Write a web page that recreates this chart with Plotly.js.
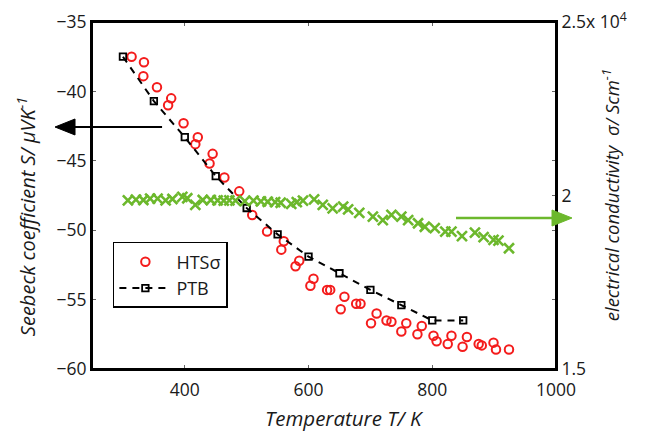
<!DOCTYPE html>
<html>
<head>
<meta charset="utf-8">
<script src="https://cdn.plot.ly/plotly-3.0.1.min.js"></script>
<style>html,body{margin:0;padding:0;background:#fff;}#chart{width:648px;height:434px;}</style>
</head>
<body>
<div id="chart"></div>
<script>
// PTB (black squares, dashed)
const ptbT = [300,350,400,450,500,550,600,650,700,750,800,850];
const ptbS = [-37.5,-40.7,-43.3,-46.1,-48.4,-50.3,-51.9,-53.1,-54.3,-55.4,-56.5,-56.5];

// HTS sigma (red open circles)
const htsT = [314,334,333,355,378,373,398,421,417,445,440,464,488,509,533,560,556,585,579,608,603,630,635,658,652,677,684,710,701,726,734,758,750,783,776,802,807,831,825,856,849,875,880,899,903,924];
const htsS = [-37.5,-37.9,-38.9,-39.7,-40.5,-41.0,-42.3,-43.3,-43.8,-44.5,-45.2,-46.2,-47.2,-48.9,-50.1,-50.8,-51.4,-52.2,-52.6,-53.5,-54.0,-54.3,-54.3,-54.8,-55.7,-55.3,-55.3,-56.0,-56.7,-56.5,-56.6,-56.7,-57.3,-56.9,-57.5,-57.6,-58.0,-57.6,-58.2,-57.7,-58.4,-58.2,-58.3,-58.1,-58.6,-58.6];

// electrical conductivity (x1e4 S/cm, green crosses)
const sigT = [308,321,333,344,356,369,380,396,404,417,429,442,453,463,472,482,497,511,523,534,546,555,572,581,591,609,623,639,656,664,682,704,720,734,750,761,777,788,804,821,831,848,869,883,899,907,924];
const sigV = [1.986,1.988,1.987,1.991,1.991,1.986,1.990,1.996,1.992,1.973,1.987,1.987,1.986,1.985,1.986,1.985,1.984,1.985,1.983,1.982,1.981,1.979,1.976,1.981,1.985,1.989,1.973,1.963,1.968,1.960,1.950,1.939,1.929,1.944,1.939,1.929,1.920,1.910,1.906,1.896,1.896,1.883,1.893,1.880,1.872,1.870,1.848];

const xTicks = [400,600,800,1000];
const yTicks = [-60,-55,-50,-45,-40,-35];
const y2Ticks = [1.5,2,2.5];
const y2TickText = ['1.5','2','2.5x 10<sup>4</sup>'];

const FONT = 'Open Sans, Noto Sans, sans-serif';
const TXT = '#1a1a1a';
const GREEN = '#6cb82c';

const traces = [
  {x: sigT, y: sigV, yaxis: 'y2', mode: 'markers', type: 'scatter', showlegend: false,
   marker: {symbol: 'x-thin', size: 10, line: {color: GREEN, width: 2.6}, color: GREEN}},
  {x: htsT, y: htsS, mode: 'markers', type: 'scatter', name: 'HTSσ',
   marker: {symbol: 'circle-open', size: 8.5, color: '#f41c1c', line: {width: 2, color: '#f41c1c'}}},
  {x: ptbT, y: ptbS, mode: 'lines+markers', type: 'scatter', name: 'PTB',
   line: {color: '#000', width: 2, dash: '7px,6px'},
   marker: {symbol: 'square-open', size: 6.5, color: '#000', line: {width: 1.8, color: '#000'}}}
];

const layout = {
  width: 648, height: 434,
  margin: {l: 92, r: 92, t: 22, b: 65},
  paper_bgcolor: '#fff', plot_bgcolor: '#fff',
  font: {family: FONT, size: 17, color: TXT},
  showlegend: true,
  legend: {x: 0.045, y: 0.366, xanchor: 'left', yanchor: 'top', bgcolor: '#fff', bordercolor: '#000', borderwidth: 1.5,
           font: {family: FONT, size: 18, color: TXT}, tracegroupgap: 4, itemwidth: 52},
  xaxis: {range: [250, 1000], tickvals: xTicks, ticks: 'inside', ticklen: 4, tickwidth: 1, tickcolor: '#666',
          showline: true, linecolor: '#000', linewidth: 2, mirror: 'ticks', showgrid: false, zeroline: false,
          ticklabelstandoff: 4,
          tickfont: {family: FONT, size: 17.5, color: TXT}},
  yaxis: {range: [-60, -35], tickvals: yTicks, ticks: 'inside', ticklen: 4, tickwidth: 1, tickcolor: '#666',
          showline: true, linecolor: '#000', linewidth: 2, mirror: 'ticks', showgrid: false, zeroline: false,
          tickfont: {family: FONT, size: 17.5, color: TXT}},
  yaxis2: {range: [1.5, 2.5], overlaying: 'y', side: 'right', tickvals: y2Ticks, ticktext: y2TickText,
           ticks: 'inside', ticklen: 4, tickwidth: 1, tickcolor: '#666', showline: true, linecolor: '#000', linewidth: 2,
           showgrid: false, zeroline: false,
           tickfont: {family: FONT, size: 17.5, color: TXT}},
  annotations: [
    {xref: 'paper', yref: 'paper', x: 0.545, y: -0.14, xanchor: 'center', yanchor: 'middle', showarrow: false,
     text: '<i>Temperature T/ K</i>', font: {family: FONT, size: 20.5, color: TXT}},
    {xref: 'paper', yref: 'paper', x: -0.142, y: 0.438, xanchor: 'center', yanchor: 'middle', showarrow: false, textangle: -90,
     text: '<i>Seebeck coefficient S/ μVK<sup>-1</sup></i>', font: {family: FONT, size: 20, color: TXT}},
    {xref: 'paper', yref: 'paper', x: 1.118, y: 0.50, xanchor: 'center', yanchor: 'middle', showarrow: false, textangle: -90,
     text: '<i>electrical conductivity  σ/ Scm<sup>-1</sup></i>', font: {family: FONT, size: 18.5, color: TXT}}
  ],
  shapes: [
    {type: 'rect', xref: 'paper', yref: 'paper', x0: 0, x1: 1, y0: 0, y1: 1, line: {color: '#000', width: 2}, layer: 'above'},
    {type: 'line', xref: 'paper', yref: 'paper', x0: -0.045, x1: 0.151, y0: 0.6974, y1: 0.6974, line: {color: '#000', width: 2.2}},
    {type: 'path', xref: 'paper', yref: 'paper', path: 'M -0.0797 0.6974 L -0.0366 0.7205 L -0.0366 0.6744 Z',
     fillcolor: '#000', line: {color: '#000', width: 1}},
    {type: 'line', xref: 'paper', yref: 'paper', x0: 0.7845, x1: 0.995, y0: 0.4352, y1: 0.4352, line: {color: GREEN, width: 2.4}},
    {type: 'path', xref: 'paper', yref: 'paper', path: 'M 1.0345 0.4352 L 0.9914 0.4582 L 0.9914 0.4121 Z',
     fillcolor: GREEN, line: {color: GREEN, width: 1}}
  ]
};

Plotly.newPlot('chart', traces, layout, {displayModeBar: false, staticPlot: true});
</script>
</body>
</html>
